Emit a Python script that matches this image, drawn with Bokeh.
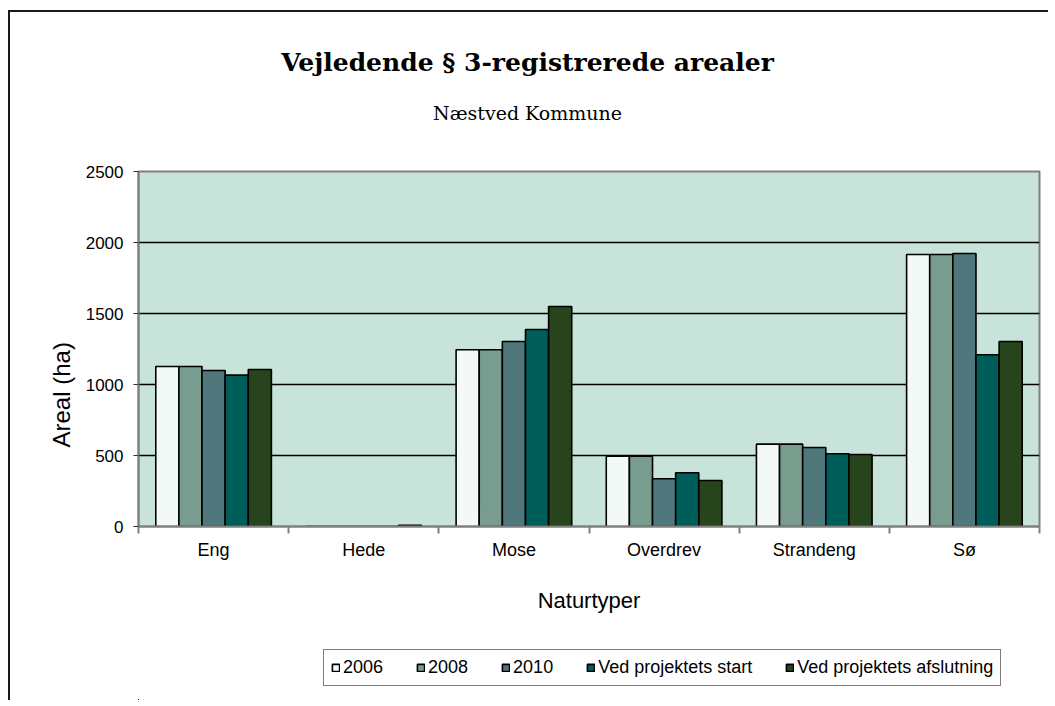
from bokeh.plotting import figure
from bokeh.layouts import column
from bokeh.models import (ColumnDataSource, FixedTicker, Legend, LegendItem, Title, Label,
                          Range1d)
from bokeh.embed import file_html
from bokeh.resources import INLINE
from bokeh.transform import dodge

title_text = "Vejledende § 3-registrerede arealer"
subtitle_text = "Næstved Kommune"
categories = ["Eng", "Hede", "Mose", "Overdrev", "Strandeng", "Sø"]
series = ["2006", "2008", "2010", "Ved projektets start", "Ved projektets afslutning"]
v2006 = [1127, 0, 1245, 495, 580, 1915]
v2008 = [1127, 0, 1245, 495, 580, 1915]
v2010 = [1099, 0, 1303, 336, 556, 1923]
vstart = [1066, 0, 1387, 378, 512, 1209]
vend = [1106, 8, 1549, 324, 507, 1303]
y_ticks = [0, 500, 1000, 1500, 2000, 2500]

colors = ["#F2F9F6", "#789D8F", "#4F777C", "#005E5A", "#27441C"]
values = [v2006, v2008, v2010, vstart, vend]

xpos = [i + 0.5 for i in range(len(categories))]
data = {"x": xpos}
keys = ["s0", "s1", "s2", "s3", "s4"]
for k, v in zip(keys, values):
    data[k] = v
source = ColumnDataSource(data)

FRAME_LINE = "2px solid #1a1a1a"

# ---- title strip ----
p0 = figure(
    frame_width=1038, frame_height=145, min_border=0,
    x_range=Range1d(0, 1), y_range=Range1d(0, 1),
    output_backend="svg", toolbar_location=None,
    x_axis_location=None, y_axis_location=None,
    background_fill_color="white", border_fill_color="white",
)
p0.styles = {"border-top": FRAME_LINE, "border-left": FRAME_LINE,
             "margin-left": "8px", "margin-top": "10px"}
p0.outline_line_color = None
p0.grid.grid_line_color = None
p0.add_layout(Label(x=389, y=97, x_units="screen", y_units="screen", text=title_text,
                    text_font="DejaVu Serif", text_font_style="bold", text_font_size="25px",
                    text_align="center", text_baseline="middle", text_color="black"))
p0.add_layout(Label(x=389, y=47, x_units="screen", y_units="screen", text=subtitle_text,
                    text_font="DejaVu Serif", text_font_style="normal", text_font_size="19px",
                    text_align="center", text_baseline="middle", text_color="black"))

# ---- main chart ----
p = figure(
    frame_width=899, frame_height=355,
    min_border_left=128, min_border_right=11, min_border_top=14, min_border_bottom=100,
    x_range=Range1d(0, len(categories)), y_range=Range1d(0, 2500),
    output_backend="svg", toolbar_location=None,
    background_fill_color="#C8E3DA", border_fill_color="white",
)
p.styles = {"border-left": FRAME_LINE, "margin-left": "8px"}
p.outline_line_color = "#808080"
p.outline_line_width = 2

bw = 0.154
offsets = [-2 * bw, -bw, 0, bw, 2 * bw]
for k, name, c, off in zip(keys, series, colors, offsets):
    p.vbar(x=dodge("x", off), top=k, width=bw, bottom=0, source=source,
           fill_color=c, line_color="black", line_width=1.6)

p.xgrid.grid_line_color = None
p.ygrid.grid_line_color = "black"
p.ygrid.grid_line_width = 1.5
p.ygrid.ticker = FixedTicker(ticks=y_ticks)

p.yaxis.ticker = FixedTicker(ticks=y_ticks)
p.yaxis.axis_line_color = "#808080"
p.yaxis.axis_line_width = 2
p.yaxis.major_tick_out = 5
p.yaxis.major_tick_in = 0
p.yaxis.major_tick_line_color = "#333333"
p.yaxis.minor_tick_line_color = None
p.yaxis.major_label_text_font = "Liberation Sans"
p.yaxis.major_label_text_font_size = "17px"
p.yaxis.major_label_text_color = "black"
p.yaxis.major_label_standoff = 10
p.add_layout(Title(text="Areal (ha)", text_font="Liberation Sans", text_font_style="normal",
                   text_font_size="24px", text_color="black", align="left",
                   offset=79, standoff=15), "left")

p.xaxis.ticker = FixedTicker(ticks=xpos, minor_ticks=list(range(len(categories) + 1)))
p.xaxis.major_label_overrides = {x: c for x, c in zip(xpos, categories)}
p.xaxis.axis_line_color = "#808080"
p.xaxis.axis_line_width = 2
p.xaxis.major_tick_out = 0
p.xaxis.major_tick_in = 0
p.xaxis.minor_tick_out = 7
p.xaxis.minor_tick_in = 0
p.xaxis.minor_tick_line_color = "#808080"
p.xaxis.minor_tick_line_width = 2
p.xaxis.major_label_text_font = "Liberation Sans"
p.xaxis.major_label_text_font_size = "18px"
p.xaxis.major_label_text_color = "black"
p.xaxis.major_label_standoff = 6
p.xaxis.axis_label = "Naturtyper"
p.xaxis.axis_label_text_font = "Liberation Sans"
p.xaxis.axis_label_text_font_size = "22px"
p.xaxis.axis_label_text_font_style = "normal"
p.xaxis.axis_label_text_color = "black"
p.xaxis.axis_label_standoff = 25

# ---- legend strip (its bars lie outside the strip's visible ranges) ----
p2 = figure(
    frame_width=1038, frame_height=74, min_border=0,
    x_range=Range1d(20, 21), y_range=Range1d(2600, 2700),
    output_backend="svg", toolbar_location=None,
    x_axis_location=None, y_axis_location=None,
    background_fill_color="white", border_fill_color="white",
)
p2.styles = {"border-left": FRAME_LINE, "margin-left": "8px"}
p2.outline_line_color = None
p2.grid.grid_line_color = None
items = []
for k, name, c, off in zip(keys, series, colors, offsets):
    r = p2.vbar(x=dodge("x", off), top=k, width=bw, bottom=0, source=source,
                fill_color=c, line_color="black", line_width=1.6)
    items.append(LegendItem(label=name, renderers=[r]))

legend = Legend(items=items, orientation="horizontal", location=(313, 14))
legend.label_text_font = "Liberation Sans"
legend.label_text_font_size = "18px"
legend.label_text_color = "black"
legend.glyph_width = 9
legend.glyph_height = 9
legend.label_standoff = 3
legend.spacing = 33
legend.padding = 7
legend.margin = 0
legend.border_line_color = "black"
legend.border_line_width = 1
legend.background_fill_color = "white"
legend.background_fill_alpha = 1
p2.add_layout(legend, "center")

layout = column(p0, p, p2, spacing=0)
open("out.html", "w").write(file_html(layout, INLINE))
